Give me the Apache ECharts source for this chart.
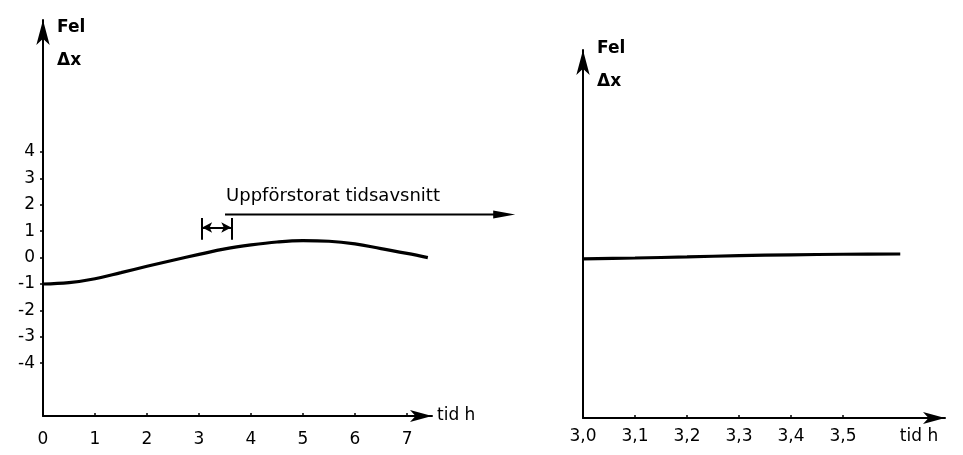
<!DOCTYPE html>
<html>
<head>
<meta charset="utf-8">
<script src="https://cdn.jsdelivr.net/npm/echarts@6/dist/echarts.min.js"></script>
<style>
html,body{margin:0;padding:0;background:#fff;}
#c{width:963px;height:455px;}
</style>
</head>
<body>
<div id="c"></div>
<script>
// ---- data ----
const leftTimes = [0, 0.5, 1, 1.5, 2, 2.5, 3, 3.5, 4, 4.5, 5, 5.5, 6, 6.5, 7, 7.4];
const leftErr   = [-1.0, -0.95, -0.8, -0.57, -0.33, -0.1, 0.12, 0.33, 0.48, 0.59, 0.64, 0.62, 0.52, 0.34, 0.16, 0.0];
const rightTimes = [3.0, 3.1, 3.2, 3.3, 3.4, 3.5, 3.61];
const rightErr   = [-0.03, 0.0, 0.04, 0.09, 0.12, 0.14, 0.15];
const leftXTicks = [0, 1, 2, 3, 4, 5, 6, 7];
const leftYTicks = [-4, -3, -2, -1, 0, 1, 2, 3, 4];
const rightXTicks = [3.0, 3.1, 3.2, 3.3, 3.4, 3.5];
const zoomWindow = [3.06, 3.62];       // enlarged time interval (h)
const zoomWindowLevel = [0.68, 1.14, 1.5]; // bar bottom, arrow, bar top
const bigArrow = {from: [3.5, 1.63], to: [9.08, 1.63], textPos: [3.52, 2.31]};
const annotationText = 'Uppförstorat tidsavsnitt';
const axisTitle = 'Fel\nΔx';
const timeTitle = 'tid h';

const FONT = 'DejaVu Sans';
const black = '#000';

const chart = echarts.init(document.getElementById('c'), null, {renderer: 'canvas'});

function axisLineStyle(symW, symH) {
  return {
    show: true, onZero: false,
    lineStyle: {color: black, width: 2},
    symbol: ['none', 'arrow'],
    symbolSize: [symW, symH],
    symbolOffset: [0, 0]
  };
}
const labelStyle = {color: black, fontFamily: FONT, fontSize: 17};
const nameStyleY = {color: black, fontFamily: FONT, fontSize: 17, fontWeight: 'bold',
  align: 'left', verticalAlign: 'top', lineHeight: 33, padding: [0, 0, 0, 14]};

const option = {
  animation: false,
  backgroundColor: '#fff',
  grid: [
    {left: 43, top: 20, width: 389, height: 396},
    {left: 583, top: 50, width: 362, height: 368}
  ],
  xAxis: [
    {
      type: 'value', gridIndex: 0, min: 0, max: 7.48,
      axisLine: axisLineStyle(9, 22),
      axisTick: {show: true, inside: true, length: 3, customValues: leftXTicks, lineStyle: {color: black, width: 1.5}},
      axisLabel: Object.assign({customValues: leftXTicks, margin: 15}, labelStyle),
      splitLine: {show: false},
      name: timeTitle, nameLocation: 'end', nameGap: 5,
      nameTextStyle: {color: black, fontFamily: FONT, fontSize: 17}
    },
    {
      type: 'value', gridIndex: 1, min: 3.0, max: 3.696,
      axisLine: axisLineStyle(9, 22),
      axisTick: {show: true, inside: true, length: 3, customValues: rightXTicks, lineStyle: {color: black, width: 1.5}},
      axisLabel: Object.assign({customValues: rightXTicks, margin: 10,
        formatter: v => v.toFixed(1).replace('.', ',')}, labelStyle),
      splitLine: {show: false},
      name: timeTitle, nameLocation: 'end', nameGap: -26,
      nameTextStyle: {color: black, fontFamily: FONT, fontSize: 17, align: 'center', verticalAlign: 'top', padding: [10, 0, 0, 0]}
    }
  ],
  yAxis: [
    {
      type: 'value', gridIndex: 0, min: -6, max: 9,
      axisLine: axisLineStyle(10, 25),
      axisTick: {show: true, inside: false, length: 3, customValues: leftYTicks, lineStyle: {color: black, width: 1.5}},
      axisLabel: Object.assign({customValues: leftYTicks, margin: 8}, labelStyle),
      splitLine: {show: false},
      name: axisTitle, nameLocation: 'end', nameGap: 9,
      nameTextStyle: nameStyleY
    },
    {
      type: 'value', gridIndex: 1, min: -6, max: 7.8,
      axisLine: axisLineStyle(10, 25),
      axisTick: {show: false},
      axisLabel: {show: false},
      splitLine: {show: false},
      name: axisTitle, nameLocation: 'end', nameGap: 18,
      nameTextStyle: nameStyleY
    }
  ],
  series: [
    {
      type: 'line', xAxisIndex: 0, yAxisIndex: 0, smooth: 0.4, showSymbol: false,
      lineStyle: {color: black, width: 3.2}, clip: false,
      data: leftTimes.map((t, i) => [t, leftErr[i]]),
      markLine: {
        silent: true, animation: false, label: {show: false},
        lineStyle: {color: black, width: 2, type: 'solid'},
        data: [
          [{coord: [zoomWindow[0], zoomWindowLevel[1]], symbol: 'arrow', symbolSize: [8, 10]},
           {coord: [zoomWindow[1], zoomWindowLevel[1]], symbol: 'arrow', symbolSize: [8, 10]}],
          [{coord: [zoomWindow[0], zoomWindowLevel[0]], symbol: 'none'},
           {coord: [zoomWindow[0], zoomWindowLevel[2]], symbol: 'none'}],
          [{coord: [zoomWindow[1], zoomWindowLevel[0]], symbol: 'none'},
           {coord: [zoomWindow[1], zoomWindowLevel[2]], symbol: 'none'}]
        ]
      }
    },
    {
      type: 'line', xAxisIndex: 1, yAxisIndex: 1, smooth: 0.3, showSymbol: false,
      lineStyle: {color: black, width: 3.2},
      data: rightTimes.map((t, i) => [t, rightErr[i]])
    }
  ]
};
chart.setOption(option);

// long annotation arrow placed through the left grid's scales
const a0 = chart.convertToPixel({gridIndex: 0}, bigArrow.from);
const a1 = chart.convertToPixel({gridIndex: 0}, bigArrow.to);
const tp = chart.convertToPixel({gridIndex: 0}, bigArrow.textPos);
chart.setOption({
  graphic: [
    {type: 'line', shape: {x1: a0[0], y1: a0[1], x2: a1[0] - 12, y2: a1[1]},
     style: {stroke: black, lineWidth: 2}, silent: true},
    {type: 'polygon', shape: {points: [[a1[0], a1[1]], [a1[0] - 22, a1[1] - 4], [a1[0] - 22, a1[1] + 4]]},
     style: {fill: black}, silent: true},
    {type: 'text', x: tp[0], y: tp[1],
     style: {text: annotationText, fill: black, font: '18px "' + FONT + '"', align: 'left', verticalAlign: 'middle'},
     silent: true}
  ]
});
</script>
</body>
</html>
